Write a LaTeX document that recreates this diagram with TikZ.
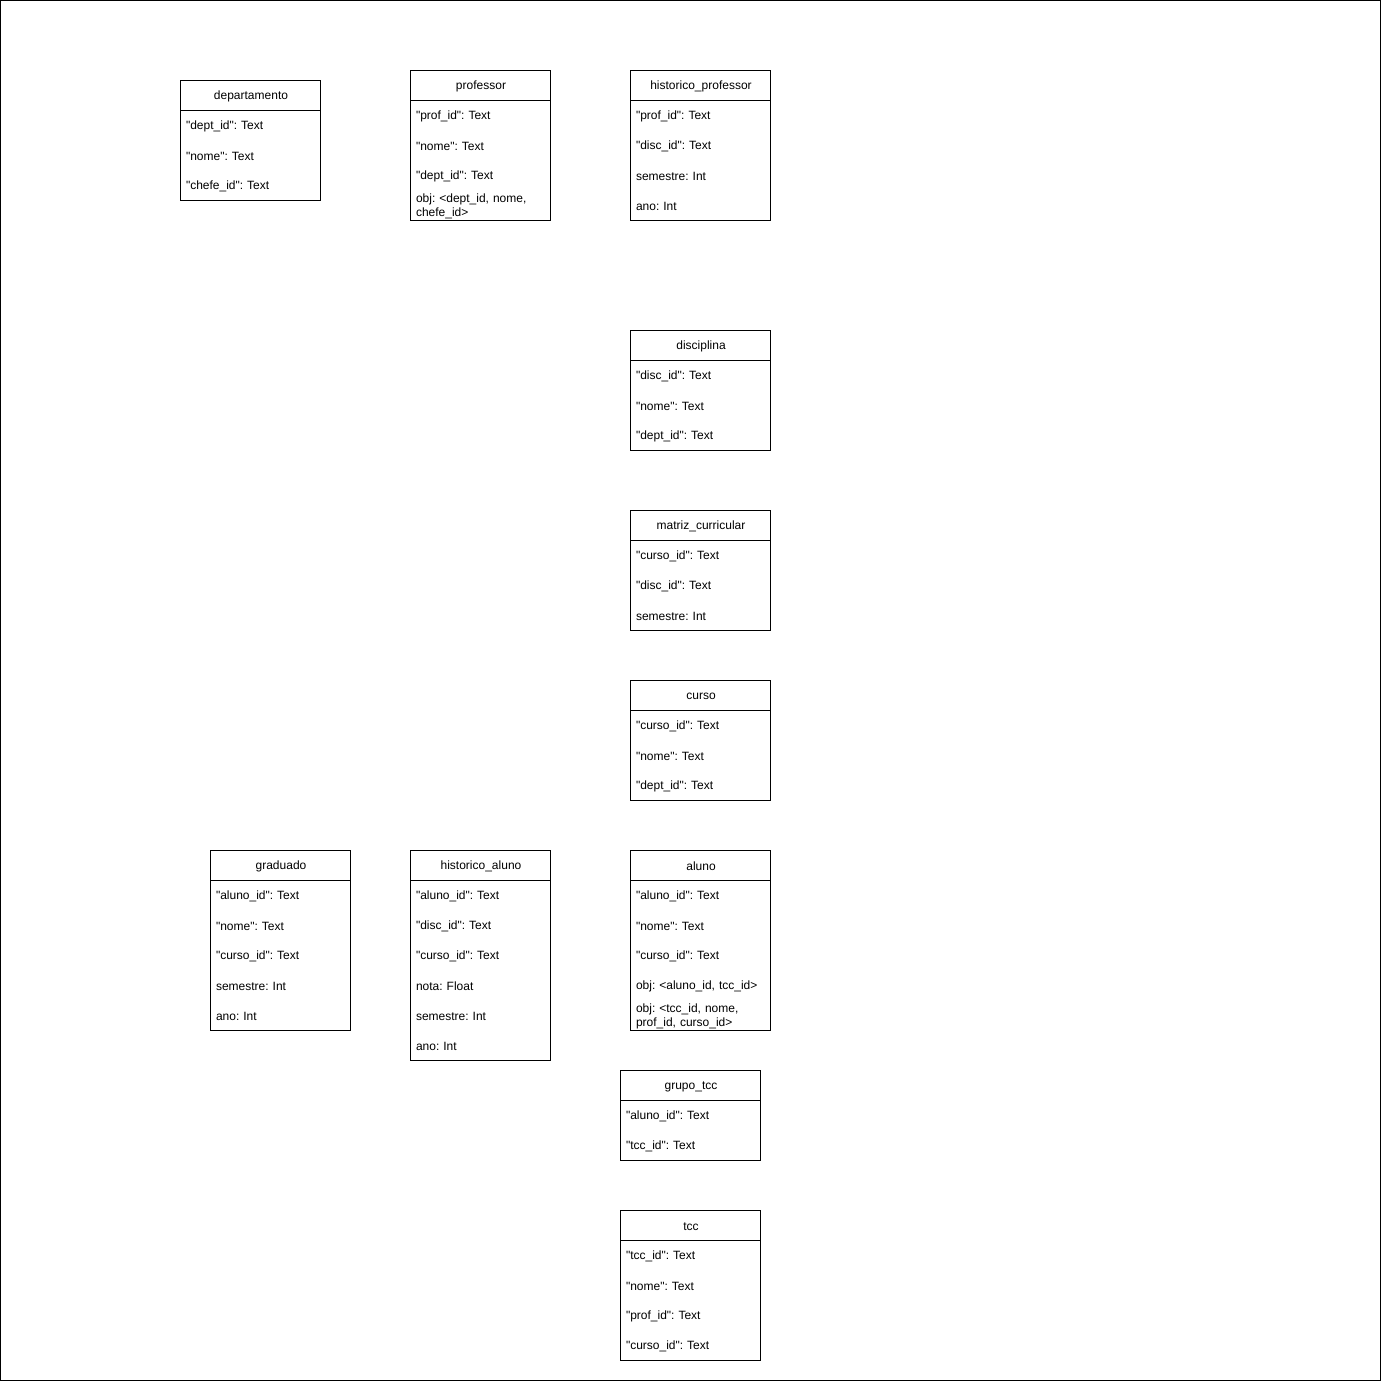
\documentclass[tikz,border=0pt]{standalone}
\usepackage{fontspec}
\newfontfamily\tabfont{Liberation Sans}
\usetikzlibrary{positioning}

\tikzset{
  tabhead/.style={anchor=north west, minimum width=140pt, minimum height=30pt,
                  inner sep=0pt, font=\tabfont\fontsize{12}{14}\selectfont},
  tabrow/.style={anchor=north west, minimum height=30pt, text width=130pt,
                 inner xsep=5pt, inner ysep=0pt, align=left, yshift=-0.5pt,
                 font=\tabfont\fontsize{12}{14}\selectfont\frenchspacing}
}

% #1 name, #2 x, #3 y, #4 number of rows, #5 title, #6 rows
\newcommand{\tabela}[6]{%
  \node[tabhead] (#1) at (#2,#3+0.5) {#5};
  \foreach \campo [count=\i] in {#6}
    \node[tabrow] (#1-\i) at (#2,#3+30*\i) {\campo};
  \draw (#2,#3+30) -- ++(140,0);
  \draw (#2,#3) rectangle ++(140,30+30*#4);
}

\begin{document}
\begin{tikzpicture}[x=1pt,y=-1pt,line width=1pt]
  \useasboundingbox (-0.5,-0.5) rectangle (1380.5,1380.5);
  \draw (0,0) rectangle (1380,1380);

  \tabela{departamento}{180}{80}{3}{departamento}
    {"dept\_id": Text, "nome": Text, "chefe\_id": Text}
  \tabela{professor}{410}{70}{4}{professor}
    {"prof\_id": Text, "nome": Text, "dept\_id": Text,
     {obj: <dept\_id, nome,\\chefe\_id>}}
  \tabela{histprof}{630}{70}{4}{historico\_professor}
    {"prof\_id": Text, "disc\_id": Text, semestre: Int, ano: Int}

  \tabela{disciplina}{630}{330}{3}{disciplina}
    {"disc\_id": Text, "nome": Text, "dept\_id": Text}
  \tabela{matriz}{630}{510}{3}{matriz\_curricular}
    {"curso\_id": Text, "disc\_id": Text, semestre: Int}
  \tabela{curso}{630}{680}{3}{curso}
    {"curso\_id": Text, "nome": Text, "dept\_id": Text}

  \tabela{graduado}{210}{850}{5}{graduado}
    {"aluno\_id": Text, "nome": Text, "curso\_id": Text, semestre: Int, ano: Int}
  \tabela{histaluno}{410}{850}{6}{historico\_aluno}
    {"aluno\_id": Text, "disc\_id": Text, "curso\_id": Text, nota: Float,
     semestre: Int, ano: Int}
  \tabela{aluno}{630}{850}{5}{aluno}
    {"aluno\_id": Text, "nome": Text, "curso\_id": Text,
     {obj: <aluno\_id, tcc\_id>}, {obj: <tcc\_id, nome,\\prof\_id, curso\_id>}}

  \tabela{grupotcc}{620}{1070}{2}{grupo\_tcc}
    {"aluno\_id": Text, "tcc\_id": Text}
  \tabela{tcc}{620}{1210}{4}{tcc}
    {"tcc\_id": Text, "nome": Text, "prof\_id": Text, "curso\_id": Text}
\end{tikzpicture}
\end{document}
